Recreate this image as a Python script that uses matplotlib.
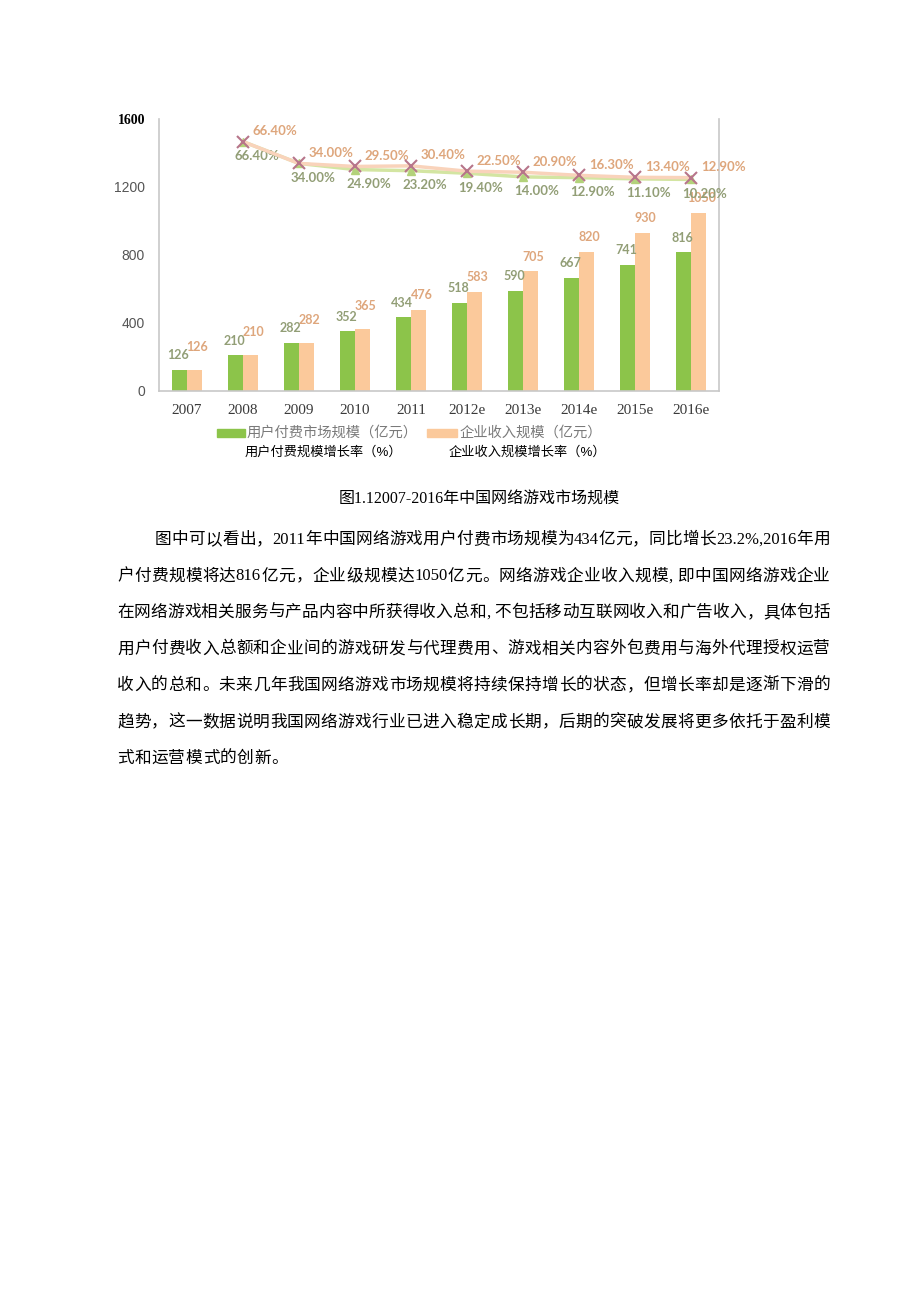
import re
import numpy as np
import matplotlib.pyplot as plt
from matplotlib.patches import Rectangle

# 数据
anos = ['2007', '2008', '2009', '2010', '2011', '2012e', '2013e', '2014e', '2015e', '2016e']
usuario = [126, 210, 282, 352, 434, 518, 590, 667, 741, 816]
empresa = [126, 210, 282, 365, 476, 583, 705, 820, 930, 1050]
cresc_usuario = [np.nan, 66.40, 34.00, 24.90, 23.20, 19.40, 14.00, 12.90, 11.10, 10.20]
cresc_empresa = [np.nan, 66.40, 34.00, 29.50, 30.40, 22.50, 20.90, 16.30, 13.40, 12.90]
yticks = [0, 400, 800, 1200, 1600]

legenda_barras = ['用户付费市场规模（亿元）', '企业收入规模（亿元）']
legenda_linhas = ['用户付费规模增长率（%）', '企业收入规模增长率（%）']
legenda_titulo = '图1.12007-2016年中国网络游戏市场规模'
paragrafo = [
    '图中可以看出，2011年中国网络游戏用户付费市场规模为434亿元，同比增长23.2%,2016年用',
    '户付费规模将达816亿元，企业级规模达1050亿元。网络游戏企业收入规模, 即中国网络游戏企业',
    '在网络游戏相关服务与产品内容中所获得收入总和, 不包括移动互联网收入和广告收入，具体包括',
    '用户付费收入总额和企业间的游戏研发与代理费用、游戏相关内容外包费用与海外代理授权运营',
    '收入的总和。未来几年我国网络游戏市场规模将持续保持增长的状态，但增长率却是逐渐下滑的',
    '趋势，这一数据说明我国网络游戏行业已进入稳定成长期，后期的突破发展将更多依托于盈利模',
    '式和运营模式的创新。',
]

VERDE = '#8cc44a'
LARANJA = '#fbc99b'
W, H = 920, 1301
plt.rcParams['font.family'] = ['Liberation Sans', 'Noto Sans CJK SC', 'DejaVu Sans']

fig = plt.figure(figsize=(W / 100, H / 100), dpi=100)
ax = fig.add_axes([159 / W, 1 - 391 / H, 560 / W, 272 / H])

x = np.arange(len(anos))
lb = 0.27
ax.bar(x - lb / 2, usuario, lb, color=VERDE, zorder=2)
ax.bar(x + lb / 2, empresa, lb, color=LARANJA, zorder=2)

for xi, v in zip(x, usuario):
    ax.annotate(str(v), (xi - lb / 2, v), xytext=(-1, 10.5), textcoords='offset points',
                ha='center', va='center', fontsize=9, color='#929e76',
                fontweight='bold', family='Lato')
for xi, v, u in zip(x, empresa, usuario):
    # rótulo laranja sobe quando as barras têm quase a mesma altura
    extra = 6 if v - u < 40 else 0
    ax.annotate(str(v), (xi + lb / 2, v), xytext=(2, 10.5 + extra), textcoords='offset points',
                ha='center', va='center', fontsize=9, color='#dea67c',
                fontweight='bold', family='Lato')

ax.set_xlim(-0.5, len(anos) - 0.5)
ax.set_ylim(0, 1600)
ax.set_yticks(yticks)
ax.set_xticks(x)
ax.set_xticklabels(anos, family='Liberation Serif', fontsize=11, color='#3a3a3a')
ax.set_yticklabels([str(t) for t in yticks], fontsize=10, color='#555555')
lab = ax.get_yticklabels()[-1]
lab.set_family('Liberation Serif')
lab.set_fontweight('bold')
lab.set_color('black')
ax.tick_params(length=0, pad=10)
ax.tick_params(axis='x', pad=9)
ax.spines['top'].set_visible(False)
for s in ['left', 'bottom', 'right']:
    ax.spines[s].set_color('#c8c8c8')
    ax.spines[s].set_linewidth(1.2)

# linhas de crescimento em eixo secundário
ax2 = ax.twinx()
ax2.set_ylim(-304, 100)
ax2.set_axis_off()
ax2.plot(x, cresc_usuario, color='#d3e5a2', lw=2.5, marker='^', ms=6,
         mfc='#b3d27a', mec='#b3d27a', zorder=3)
ax2.plot(x, cresc_empresa, color='#f9d3bb', lw=2.5, marker='x', ms=9,
         mec='#b7758a', mew=1.5, zorder=4)
for xi, v in zip(x, cresc_empresa):
    if np.isnan(v):
        continue
    ax2.annotate(f'{v:.2f}%', (xi, v), xytext=(7, 7.5), textcoords='offset points',
                 ha='left', va='center', fontsize=9.5, color='#dea67c',
                 fontweight='bold', family='Lato')
for xi, v in zip(x, cresc_usuario):
    if np.isnan(v):
        continue
    ax2.annotate(f'{v:.2f}%', (xi, v), xytext=(-6, -10.5), textcoords='offset points',
                 ha='left', va='center', fontsize=9.5, color='#929e76',
                 fontweight='bold', family='Lato')

# legenda
fig.patches.append(Rectangle((217 / W, 1 - 437 / H), 28 / W, 8 / H,
                             transform=fig.transFigure, color=VERDE))
fig.text(247 / W, 1 - 433 / H, legenda_barras[0], fontsize=10.3, color='#7a7a7a', va='center')
fig.patches.append(Rectangle((427 / W, 1 - 437 / H), 30 / W, 8 / H,
                             transform=fig.transFigure, color=LARANJA))
fig.text(460 / W, 1 - 433 / H, legenda_barras[1], fontsize=10.3, color='#7a7a7a', va='center')
fig.text(245 / W, 1 - 452 / H, legenda_linhas[0], fontsize=9.5, color='black', va='center')
fig.text(449 / W, 1 - 452 / H, legenda_linhas[1], fontsize=9.5, color='black', va='center')

# texto do documento
fonte_doc = ['Liberation Serif', 'Noto Sans CJK SC']
fig.text(479 / W, 1 - 500 / H, legenda_titulo, fontsize=11.5, ha='center', va='center',
         family=fonte_doc)

renderer = fig.canvas.get_renderer()


def linha_justificada(texto, y, x0, x1, justificar=True):
    tokens = re.findall(r'[A-Za-z0-9.%,\-]+|.', texto)
    objs = []
    for tk in tokens:
        t = fig.text(0, 1 - y / H, tk, fontsize=12, va='center', ha='left', family=fonte_doc)
        objs.append(t)
    larg = [t.get_window_extent(renderer).width for t in objs]
    gap = (x1 - x0 - sum(larg)) / (len(objs) - 1) if justificar else 0.5
    pos = x0
    for t, w in zip(objs, larg):
        t.set_x(pos / W)
        pos += w + gap


ys = [540, 576.5, 613, 649.5, 686, 722.5, 759]
for i, (linha, y) in enumerate(zip(paragrafo, ys)):
    x0 = 155 if i == 0 else 117
    linha_justificada(linha, y, x0, 830, justificar=(i < len(paragrafo) - 1))

fig.savefig('out.png', dpi=100)
